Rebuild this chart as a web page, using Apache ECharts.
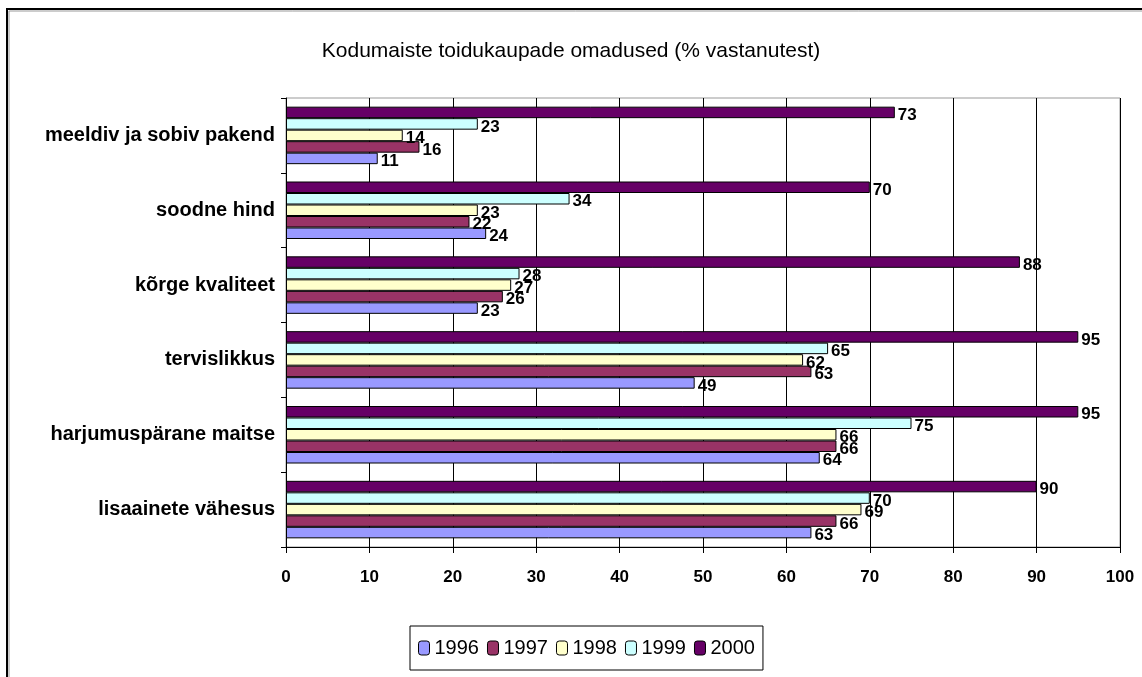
<!DOCTYPE html>
<html>
<head>
<meta charset="utf-8">
<script src="https://cdn.jsdelivr.net/npm/echarts@6/dist/echarts.min.js"></script>
<style>
  html, body { margin: 0; padding: 0; background: #fff; }
  #chart { width: 1142px; height: 677px; }
</style>
</head>
<body>
<div id="chart"></div>
<script>
// kategooriad alt üles (ECharts joonistab esimese alla)
const categories = [
    'lisaainete vähesus',
    'harjumuspärane maitse',
    'tervislikkus',
    'kõrge kvaliteet',
    'soodne hind',
    'meeldiv ja sobiv pakend'
];
const years = ['1996', '1997', '1998', '1999', '2000'];
const v1996 = [63, 64, 49, 23, 24, 11];
const v1997 = [66, 66, 63, 26, 22, 16];
const v1998 = [69, 66, 62, 27, 23, 14];
const v1999 = [70, 75, 65, 28, 34, 23];
const v2000 = [90, 95, 95, 88, 70, 73];
const xTicks = [0, 10, 20, 30, 40, 50, 60, 70, 80, 90, 100];

const colors = ['#9999ff', '#993366', '#ffffcc', '#ccffff', '#660066'];
const values = [v1996, v1997, v1998, v1999, v2000];
const font = 'Liberation Sans, Arial, sans-serif';

const chart = echarts.init(document.getElementById('chart'));

// 2000 peab olema iga grupi ülemine tulp -> seeriad tagurpidi
const series = years.map((y, i) => ({
    name: y,
    type: 'bar',
    data: values[i],
    barWidth: 11.5,
    barGap: '0%',
    itemStyle: {color: colors[i], borderColor: '#000', borderWidth: 1},
    label: {
        show: true,
        position: 'right',
        distance: 3,
        offset: [0, 3],
        color: '#000',
        fontFamily: font,
        fontWeight: 'bold',
        fontSize: 17
    }
})).reverse();

const option = {
    backgroundColor: '#fff',
    animation: false,
    title: {
        text: 'Kodumaiste toidukaupade omadused (% vastanutest)',
        left: 'center',
        top: 36,
        textStyle: {fontFamily: font, fontSize: 21, fontWeight: 'normal', color: '#000'}
    },
    legend: {
        bottom: 7,
        left: 410,
        itemWidth: 11,
        itemHeight: 14,
        itemGap: 8,
        padding: [12, 8, 12, 8],
        borderColor: '#000',
        borderWidth: 1,
        textStyle: {fontFamily: font, fontSize: 20, color: '#000'},
        data: years.map(y => ({name: y, itemStyle: {borderColor: '#000', borderWidth: 1}}))
    },
    grid: {left: 286, top: 98, width: 834, height: 449, containLabel: false,
        show: true, borderColor: '#999', borderWidth: 1},
    xAxis: {
        type: 'value',
        min: xTicks[0],
        max: xTicks[xTicks.length - 1],
        interval: 10,
        axisLine: {show: true, lineStyle: {color: '#000', width: 1}},
        axisTick: {show: true, length: 6, lineStyle: {color: '#000'}},
        splitLine: {show: true, lineStyle: {color: '#000', width: 1}},
        axisLabel: {color: '#000', fontFamily: font, fontWeight: 'bold', fontSize: 17, margin: 22}
    },
    yAxis: {
        type: 'category',
        data: categories,
        axisLine: {show: true, lineStyle: {color: '#000', width: 1}},
        axisTick: {show: true, length: 5, lineStyle: {color: '#000'}},
        axisLabel: {color: '#000', fontFamily: font, fontWeight: 'bold', fontSize: 20, margin: 11}
    },
    graphic: [
        {type: 'polyline', shape: {points: [[7, 677], [7, 9], [1142, 9]]},
            style: {stroke: '#000', lineWidth: 2, fill: null}},
        {type: 'polyline', shape: {points: [[9, 677], [9, 11], [1142, 11]]},
            style: {stroke: '#999', lineWidth: 1, fill: null}}
    ],
    series: series
};

chart.setOption(option);
</script>
</body>
</html>
